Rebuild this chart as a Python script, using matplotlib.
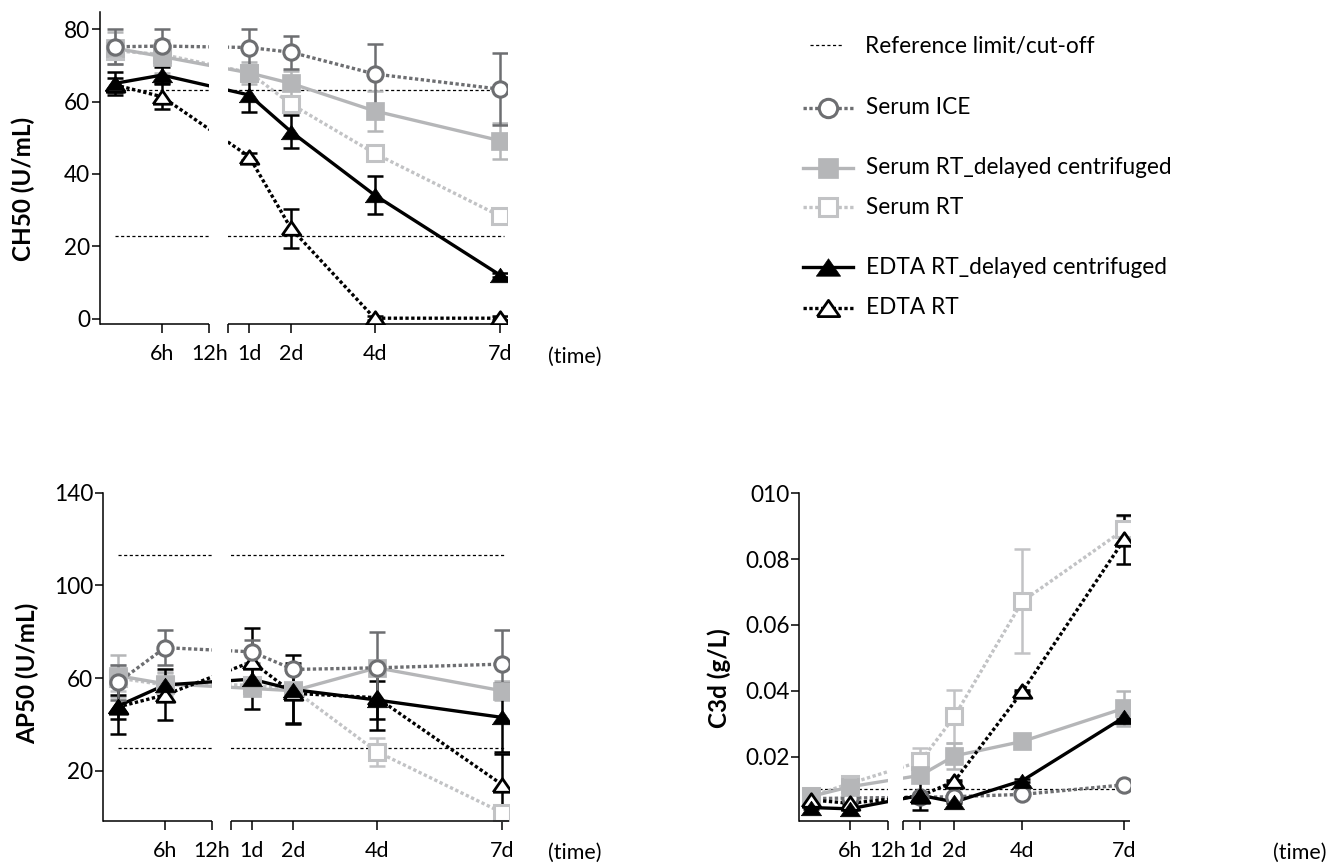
import numpy as np
import matplotlib
matplotlib.use('Agg')
from matplotlib import pyplot as plt

plt.rcParams['font.family'] = ['Lato', 'DejaVu Sans']
FS = 16.3
FX = 15.5
plt.rcParams['font.size'] = FS

# Tiempos (horas) y etiquetas del eje x
times = [0, 6, 24, 48, 96, 168]
tick_pos = [6, 12, 24, 48, 96, 168]
tick_labels = ['6h', '12h', '1d', '2d', '4d', '7d']

# CH50 (U/mL)
ch50_ice = [75.1, 75.3, 74.9, 73.6, 67.6, 63.4]
ch50_ice_err = [4.8, 4.7, 5.0, 4.6, 8.4, 10.0]
ch50_srt_dc = [74.7, 72.4, 67.9, 65.0, 57.4, 49.2]
ch50_srt_dc_err = [4.4, 4.5, 3.0, 3.5, 5.5, 5.0]
ch50_srt = [74.0, 73.0, 68.0, 59.3, 45.7, 28.4]
ch50_srt_err = [1.5, 1.5, 1.5, 1.5, 1.5, 1.5]
ch50_edta_dc = [65.0, 67.3, 61.8, 51.7, 34.2, 12.1]
ch50_edta_dc_err = [3.2, 2.3, 4.6, 4.5, 5.3, 0.5]
ch50_edta = [64.6, 61.3, 44.8, 25.0, 0.2, 0.2]
ch50_edta_err = [2.0, 3.5, 1.0, 5.3, 0.5, 0.5]
ch50_ref = [63.3, 23.0]

# AP50 (U/mL)
ap50_ice = [58.1, 73.1, 71.3, 63.7, 64.4, 66.0]
ap50_ice_err = [7.5, 7.6, 5.0, 1.0, 15.6, 14.7]
ap50_srt_dc = [61.0, 57.5, 55.5, 54.5, 64.4, 54.5]
ap50_srt_dc_err = [9.0, 5.0, 1.0, 1.0, 1.0, 4.0]
ap50_srt = [60.0, 57.0, 57.0, 55.0, 28.2, 1.9]
ap50_srt_err = [5.7, 5.0, 1.0, 1.0, 6.0, 1.0]
ap50_edta_dc = [47.9, 57.0, 59.5, 55.0, 50.5, 43.0]
ap50_edta_dc_err = [12.0, 3.6, 13.0, 15.0, 8.0, 15.0]
ap50_edta = [47.5, 52.7, 67.0, 53.4, 51.5, 14.0]
ap50_edta_err = [5.0, 11.0, 14.4, 13.0, 14.0, 13.0]
ap50_ref = [112.9, 29.9]

# C3d (g/L)
c3d_ice = [0.0072, 0.0074, 0.0076, 0.0078, 0.0085, 0.0114]
c3d_ice_err = [0.0003, 0.0003, 0.0003, 0.0003, 0.0003, 0.0003]
c3d_srt_dc = [0.0079, 0.0108, 0.0143, 0.0202, 0.0246, 0.0347]
c3d_srt_dc_err = [0.0005, 0.001, 0.0015, 0.004, 0.001, 0.0053]
c3d_srt = [0.0080, 0.0118, 0.0185, 0.0322, 0.0672, 0.0890]
c3d_srt_err = [0.0005, 0.001, 0.004, 0.0081, 0.0158, 0.004]
c3d_edta_dc = [0.0045, 0.0041, 0.0082, 0.0062, 0.0127, 0.0320]
c3d_edta_dc_err = [0.0003, 0.0003, 0.0044, 0.0003, 0.0005, 0.0005]
c3d_edta = [0.0068, 0.0058, 0.0080, 0.0125, 0.0398, 0.0860]
c3d_edta_err = [0.0003, 0.0003, 0.0003, 0.0003, 0.0003, 0.0074]
c3d_ref = [0.0102]

DARK = '#6d6e71'
LIGHT = '#b5b6b8'
LIGHT2 = '#c2c3c5'
DOT = (0, (1, 0.75))

# triangulo algo mas ancho que alto
TRI = [(-1, -0.72), (1, -0.72), (0, 0.72), (-1, -0.72)]

# estilos de cada serie
styles = {
    'srt': dict(color=LIGHT2, ls=DOT, marker='s', mfc='white', ms=11, mew=2.2),
    'srt_dc': dict(color=LIGHT, ls='-', marker='s', mfc=LIGHT, ms=12.5, mew=0.5),
    'edta': dict(color='black', ls=DOT, marker=TRI, mfc='white', ms=13.5, mew=2.0),
    'edta_dc': dict(color='black', ls='-', marker=TRI, mfc='black', ms=14.5, mew=0.5),
    'ice': dict(color=DARK, ls=DOT, marker='o', mfc='white', ms=11, mew=2.2),
}

# Escala del eje x con corte entre 12h y el resto
SPLIT = 12.0
GAP = 2.4
K = 0.2215
EPS = 0.001


def fwd(t):
    t = np.asarray(t, dtype=float)
    mid = SPLIT + (t - SPLIT) / EPS * GAP
    right = SPLIT + GAP + (t - SPLIT - EPS) * K
    return np.where(t <= SPLIT, t, np.where(t < SPLIT + EPS, mid, right))


def inv(u):
    u = np.asarray(u, dtype=float)
    mid = SPLIT + (u - SPLIT) / GAP * EPS
    right = SPLIT + EPS + (u - SPLIT - GAP) / K
    return np.where(u <= SPLIT, u, np.where(u < SPLIT + GAP, mid, right))


XMIN, XMAX = -1.9, 172.0

W, H = 1328, 864
fig = plt.figure(figsize=(W / 100, H / 100), dpi=100)


def px_axes(left, right, top, bottom):
    return fig.add_axes([left / W, 1 - bottom / H, (right - left) / W, (bottom - top) / H])


def draw_panel(ax, series, refs, ylim, yticks, yticklabels, ref_x):
    ax.set_xscale('function', functions=(fwd, inv))
    ax.set_xlim(XMIN, XMAX)
    ax.set_ylim(*ylim)
    for i, (key, vals, errs) in enumerate(series):
        st = styles[key]
        z = 2 + i * 0.1
        ax.errorbar(times, vals, yerr=errs, fmt='none', ecolor=st['color'],
                    elinewidth=1.8, capsize=6, capthick=1.8, zorder=z)
        ax.plot(times, vals, color=st['color'], ls=st['ls'], lw=2.4, zorder=z + 0.01)
        ax.plot(times, vals, ls='none', marker=st['marker'], ms=st['ms'],
                mfc=st['mfc'], mec=st['color'], mew=st['mew'], zorder=z + 1)
    for r in refs:
        ax.plot(ref_x, [r, r], color='black', lw=0.9, ls=(0, (2.5, 2)), zorder=1.5)
    # hueco del corte
    ax.axvspan(SPLIT, SPLIT + EPS, color='white', lw=0, zorder=5)
    # eje x partido
    for a, b in [(XMIN, SPLIT), (SPLIT + EPS, XMAX)]:
        ax.plot([a, b], [0, 0], transform=ax.get_xaxis_transform(), color='black',
                lw=1.1, clip_on=False, zorder=6, solid_capstyle='butt')
    ax.spines['bottom'].set_visible(False)
    ax.spines['top'].set_visible(False)
    ax.spines['right'].set_visible(False)
    ax.spines['left'].set_linewidth(1.1)
    ax.set_xticks(tick_pos + [SPLIT + EPS], tick_labels + [''])
    ax.xaxis.set_minor_locator(matplotlib.ticker.NullLocator())
    ax.set_yticks(yticks, yticklabels)
    ax.tick_params(axis='x', length=6.5, width=1.1, pad=8, labelsize=FX)
    ax.tick_params(axis='y', length=6, width=1.1, pad=1, labelsize=FS)


# Panel CH50
ax1 = px_axes(100, 507, 12, 324)
draw_panel(ax1,
           [('srt', ch50_srt, ch50_srt_err), ('srt_dc', ch50_srt_dc, ch50_srt_dc_err),
            ('edta', ch50_edta, ch50_edta_err), ('edta_dc', ch50_edta_dc, ch50_edta_dc_err),
            ('ice', ch50_ice, ch50_ice_err)],
           ch50_ref, (-1.4, 84.7), [0, 20, 40, 60, 80], ['0', '20', '40', '60', '80'],
           [0, 170])

# Panel AP50
ax2 = px_axes(103, 509, 492.7, 820.7)
draw_panel(ax2,
           [('srt', ap50_srt, ap50_srt_err), ('srt_dc', ap50_srt_dc, ap50_srt_dc_err),
            ('edta', ap50_edta, ap50_edta_err), ('edta_dc', ap50_edta_dc, ap50_edta_dc_err),
            ('ice', ap50_ice, ap50_ice_err)],
           ap50_ref, (-1.6, 140), [20, 60, 100, 140], ['20', '60', '100', '140'],
           [0, 170])

# Panel C3d (Serum ICE queda debajo)
ax3 = px_axes(799.3, 1130, 493.3, 820.7)
draw_panel(ax3,
           [('ice', c3d_ice, c3d_ice_err), ('srt', c3d_srt, c3d_srt_err),
            ('srt_dc', c3d_srt_dc, c3d_srt_dc_err),
            ('edta', c3d_edta, c3d_edta_err), ('edta_dc', c3d_edta_dc, c3d_edta_dc_err)],
           c3d_ref, (0.0005, 0.1), [0.02, 0.04, 0.06, 0.08, 0.10],
           ['0.02', '0.04', '0.06', '0.08', '010'], [-1.5, 168])

# Etiquetas de los ejes
YL = 17.5
fig.text(23 / W, 1 - 189 / H, 'CH50 (U/mL)', rotation=90, ha='center', va='center',
         fontsize=YL, fontweight='bold')
fig.text(27 / W, 1 - 673 / H, 'AP50 (U/mL)', rotation=90, ha='center', va='center',
         fontsize=YL, fontweight='bold')
fig.text(719 / W, 1 - 678 / H, 'C3d (g/L)', rotation=90, ha='center', va='center',
         fontsize=YL, fontweight='bold')
for x, y in [(575, 357), (575, 853), (1300, 853)]:
    fig.text(x / W, 1 - y / H, '(time)', ha='center', va='center', fontsize=FX)

# Leyenda dibujada a mano
leg = fig.add_axes([0, 0, 1, 1])
leg.set_xlim(0, W)
leg.set_ylim(H, 0)
leg.axis('off')
leg.plot([810, 843], [45, 45], color='black', lw=0.9, ls=(0, (2.5, 2)))
leg.text(865, 46, 'Reference limit/cut-off', va='center', fontsize=FS)
legend_items = [
    ('ice', 'Serum ICE', 108),
    ('srt_dc', 'Serum RT_delayed centrifuged', 168),
    ('srt', 'Serum RT', 207),
    ('edta_dc', 'EDTA RT_delayed centrifuged', 267),
    ('edta', 'EDTA RT', 308),
]
for key, label, y in legend_items:
    st = styles[key]
    leg.plot([803, 853], [y, y], color=st['color'], ls=st['ls'], lw=2.4)
    leg.plot([828], [y], ls='none', marker=st['marker'], ms=st['ms'] * 1.2,
             mfc=st['mfc'], mec=st['color'], mew=st['mew'])
    leg.text(866, y, label, va='center', fontsize=FS)

fig.savefig('out.png', dpi=100)
